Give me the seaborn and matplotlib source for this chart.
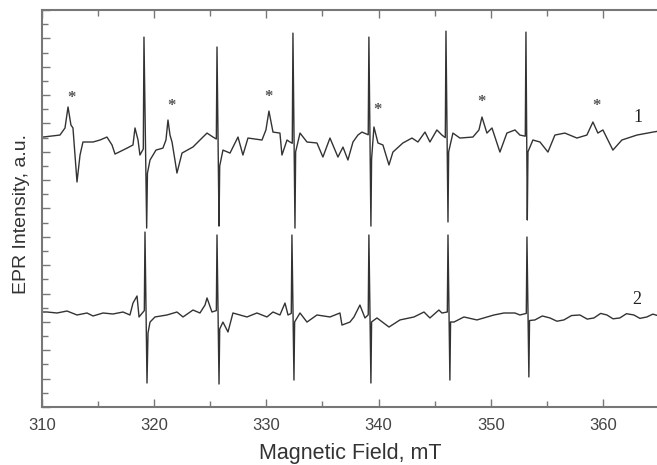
import numpy as np
import pandas as pd
import matplotlib
matplotlib.use("Agg")
import matplotlib.pyplot as plt
import seaborn as sns
from matplotlib.ticker import MultipleLocator, NullFormatter

sns.set_style("ticks")
plt.rcParams["font.family"] = ["Liberation Sans", "DejaVu Sans"]

# ---- spectrum 1 (upper trace), field in mT, intensity in a.u. ----
field_1 = [310.09, 311.60, 312.05, 312.32, 312.58, 312.76, 313.12, 313.39, 313.65, 314.55,
           315.17, 315.79, 316.24, 316.51, 317.58, 318.11, 318.29, 318.56, 318.73, 319.03,
           319.09, 319.33, 319.40, 319.63, 320.16, 320.78, 321.05, 321.23, 321.41, 321.59,
           321.85, 322.03, 322.48, 323.46, 324.08, 324.71, 325.24, 325.54, 325.60, 325.78,
           325.84, 326.13, 326.76, 327.47, 327.91, 328.36, 329.61, 329.96, 330.23, 330.59,
           331.21, 331.39, 331.84, 332.10, 332.31, 332.37, 332.55, 332.61, 333.00, 333.62,
           334.51, 335.04, 335.67, 336.38, 336.83, 337.27, 337.72, 338.16, 338.52, 339.08,
           339.14, 339.32, 339.38, 339.59, 339.95, 340.39, 340.93, 341.28, 342.17, 342.98,
           343.51, 344.14, 344.58, 345.20, 345.65, 345.95, 346.01, 346.19, 346.25, 346.63,
           347.25, 348.41, 348.95, 349.22, 349.66, 350.11, 350.82, 351.44, 352.16, 352.60,
           353.08, 353.14, 353.26, 353.32, 353.76, 354.39, 355.10, 355.72, 356.61, 357.68,
           358.57, 359.11, 359.55, 360.00, 360.89, 361.69, 363.03, 364.46, 365.00]
signal_1 = [19.04, 19.18, 19.68, 21.16, 19.89, 19.68, 15.87, 17.77, 18.69, 18.69,
            18.83, 19.04, 18.48, 17.84, 18.26, 18.48, 19.68, 18.83, 17.77, 18.20,
            26.09, 12.62, 16.50, 17.42, 18.12, 18.26, 18.83, 20.24, 19.18, 18.69,
            17.42, 16.50, 17.91, 18.34, 18.83, 19.32, 19.04, 18.90, 25.39, 12.76,
            17.00, 18.12, 17.91, 19.04, 17.77, 18.97, 18.83, 19.54, 20.87, 19.39,
            19.32, 17.77, 18.83, 18.69, 18.60, 26.37, 12.62, 18.00, 19.32, 18.69,
            18.62, 17.63, 18.97, 17.63, 18.33, 17.42, 18.69, 19.18, 19.39, 19.20,
            26.09, 12.76, 17.50, 19.75, 18.62, 18.48, 17.07, 17.98, 18.62, 18.97,
            18.69, 19.39, 18.69, 19.54, 19.18, 19.00, 26.51, 13.05, 18.00, 19.32,
            18.97, 19.04, 19.54, 20.45, 19.32, 19.68, 17.98, 19.32, 19.54, 19.18,
            19.10, 26.44, 13.19, 18.00, 18.83, 18.69, 17.98, 19.18, 19.32, 18.97,
            19.18, 20.10, 19.32, 19.54, 18.12, 18.83, 19.18, 19.39, 19.46]

# ---- spectrum 2 (lower trace) ----
field_2 = [310.09, 310.45, 311.34, 312.23, 313.12, 314.01, 314.55, 315.44, 316.33, 317.22,
           317.84, 318.11, 318.47, 318.65, 319.12, 319.18, 319.36, 319.45, 319.63, 320.07,
           321.14, 322.03, 322.57, 323.46, 324.08, 324.53, 324.71, 325.15, 325.54, 325.60,
           325.78, 325.84, 326.13, 326.58, 327.02, 328.27, 329.16, 330.05, 330.59, 331.21,
           331.66, 331.93, 332.22, 332.28, 332.46, 332.52, 333.00, 333.62, 334.51, 335.67,
           336.56, 336.74, 337.45, 337.81, 338.34, 338.79, 339.08, 339.14, 339.32, 339.38,
           339.86, 340.93, 341.91, 343.16, 344.05, 344.58, 345.38, 345.65, 346.13, 346.19,
           346.36, 346.42, 346.72, 347.61, 348.77, 350.29, 351.18, 352.16, 352.60, 353.17,
           353.23, 353.40, 353.46, 353.94, 354.60, 355.28, 355.90, 356.52, 357.20, 357.95,
           358.60, 359.20, 359.80, 360.36, 360.90, 361.51, 362.10, 362.76, 363.30, 363.92,
           364.45, 365.00]
signal_2 = [6.70, 6.70, 6.63, 6.77, 6.49, 6.63, 6.42, 6.63, 6.56, 6.70,
            6.49, 7.33, 7.83, 6.35, 6.80, 12.34, 1.69, 5.22, 5.99, 6.35,
            6.49, 6.70, 6.35, 6.84, 6.63, 7.19, 7.69, 6.70, 6.80, 12.13,
            1.62, 5.50, 5.99, 5.29, 6.63, 6.35, 6.63, 6.35, 6.70, 6.49,
            7.33, 6.49, 6.60, 12.13, 1.90, 6.00, 6.63, 5.99, 6.49, 6.35,
            6.63, 5.78, 5.99, 6.35, 7.19, 6.28, 6.50, 12.13, 1.69, 6.00,
            6.28, 5.64, 6.14, 6.35, 6.70, 6.28, 6.84, 6.63, 6.70, 12.13,
            1.90, 6.00, 5.99, 6.35, 6.14, 6.49, 6.63, 6.63, 6.49, 6.60,
            11.99, 2.12, 6.10, 6.14, 6.42, 6.28, 6.05, 6.14, 6.45, 6.49,
            6.20, 6.28, 6.60, 6.49, 6.22, 6.28, 6.58, 6.49, 6.25, 6.35,
            6.55, 6.42]

# asterisks over the extra lines of trace 1
star_field = [312.67, 321.50, 330.23, 339.95, 349.22, 359.47]
star_level = [21.79, 21.23, 21.86, 20.94, 21.51, 21.23]

df1 = pd.DataFrame({"field": field_1, "intensity": signal_1})
df2 = pd.DataFrame({"field": field_2, "intensity": signal_2})

fig = plt.figure(figsize=(6.57, 4.65), dpi=100)
ax = fig.add_axes([42 / 657, 1 - 407 / 465, 617 / 657, 397 / 465])

sns.lineplot(data=df1, x="field", y="intensity", ax=ax, color="#333333",
             linewidth=1.0, sort=False, estimator=None)
sns.lineplot(data=df2, x="field", y="intensity", ax=ax, color="#333333",
             linewidth=1.0, sort=False, estimator=None)

for xs, ys in zip(star_field, star_level):
    ax.text(xs, ys, "*", ha="center", va="center", fontsize=12,
            color="#555555", family="Liberation Serif", fontweight="bold")

ax.text(363.1, 20.4, "1", ha="center", va="center", fontsize=13,
        color="#222222", family="Liberation Serif")
ax.text(363.0, 7.55, "2", ha="center", va="center", fontsize=13,
        color="#222222", family="Liberation Serif")

ax.set_xlim(310, 365)
ax.set_ylim(0, 28)
ax.xaxis.set_major_locator(MultipleLocator(10))
ax.xaxis.set_minor_locator(MultipleLocator(5))
ax.yaxis.set_major_locator(MultipleLocator(2))
ax.yaxis.set_minor_locator(MultipleLocator(1))
ax.yaxis.set_major_formatter(NullFormatter())

ax.tick_params(axis="both", which="both", direction="in", color="#777777",
               width=1.0, top=True, right=False)
ax.tick_params(axis="both", which="major", length=6)
ax.tick_params(axis="both", which="minor", length=4)
ax.tick_params(axis="x", which="major", labelsize=12, labelcolor="#444444", pad=8)

for side in ["left", "bottom", "top"]:
    ax.spines[side].set_color("#777777")
    ax.spines[side].set_linewidth(1.5)
    ax.spines[side].set_visible(True)
ax.spines["right"].set_visible(False)

ax.set_xlabel("Magnetic Field, mT", fontsize=15.5, color="#333333")
ax.set_ylabel("EPR Intensity, a.u.", fontsize=14, color="#333333")
ax.xaxis.set_label_coords(0.5, -0.09)
ax.yaxis.set_label_coords(-0.02, 0.485)

fig.savefig("out.png", dpi=100)
